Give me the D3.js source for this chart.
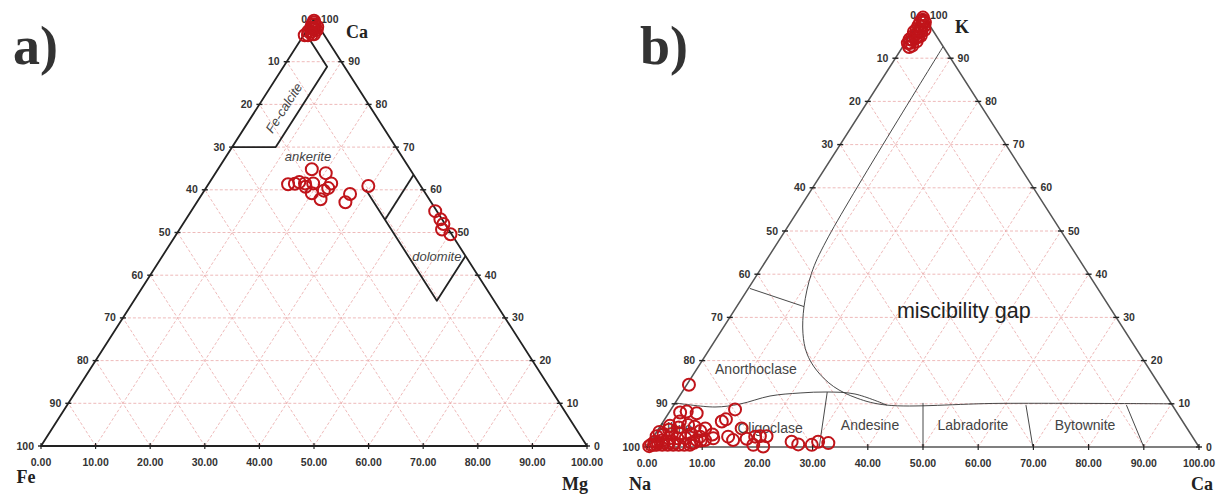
<!DOCTYPE html>
<html>
<head>
<meta charset="utf-8">
<script src="https://cdn.jsdelivr.net/npm/d3@7"></script>
<style>
  body { margin: 0; background: #fff; }
  svg { display: block; font-family: "Liberation Sans", Arial, sans-serif; }
</style>
</head>
<body>
<svg id="chart" width="1217" height="496"></svg>
<script>
const ternTicks = d3.range(0, 101, 10);

// ---- panel a) carbonates, points are [Fe, Mg, Ca] in %
const carbApex = [
  [0.2, 0.2, 99.6], [0.5, 0.8, 98.7], [1.0, 0.3, 98.7], [1.2, 1.2, 97.6],
  [1.6, 0.5, 97.9], [2.0, 1.0, 97.0], [2.5, 0.4, 97.1], [3.0, 0.8, 96.2],
  [3.6, 0.2, 96.2], [0.3, 1.5, 98.2], [1.8, 1.8, 96.4], [0.8, 1.8, 97.4],
  [0.4, 0.4, 99.2], [0.9, 1.2, 97.9], [1.4, 0.8, 97.8], [2.2, 1.4, 96.4]
];
const carbAnkerite = [
  [18.0, 17.2, 64.8], [15.9, 20.2, 63.9], [24.1, 14.6, 61.3], [22.8, 15.8, 61.4],
  [21.8, 16.4, 61.8], [20.9, 17.6, 61.5], [21.2, 18.1, 60.7], [19.4, 19.1, 61.5],
  [20.8, 20.0, 59.2], [19.9, 22.3, 57.8], [18.3, 21.9, 59.8], [17.2, 22.4, 60.4],
  [16.1, 22.4, 61.5], [13.9, 27.1, 59.0], [15.7, 27.2, 57.1], [9.6, 29.5, 60.9]
];
const carbDolomite = [
  [0.3, 44.7, 55.0], [0.3, 46.6, 53.1], [0.3, 47.7, 52.0], [1.2, 48.1, 50.7], [0.2, 50.2, 49.6]
];
const carbFields = [
  [[30, 0, 70], [22, 8, 70], [3.2, 8, 88.8], [3.2, 0, 96.8]],
  [[10.5, 29.5, 60], [10.5, 55.5, 34], [0, 55.5, 44.5]],
  [[10.5, 36.5, 53], [0, 36.5, 63.5]]
];
const carbLabels = [
  { text: 'Fe-calcite', p: [15.9, 4.9, 79.2], rotate: true },
  { text: 'ankerite', p: [17.25, 15.05, 67.7] },
  { text: 'dolomite', p: [5.25, 50.25, 44.5] }
];

// ---- panel b) feldspars, points are [Na, Ca, K] in %
const feldApex = [
  [0.3, 0.3, 99.4], [0.8, 0.8, 98.4], [1.2, 0.3, 98.5], [1.6, 1.0, 97.4], [2.0, 0.4, 97.6],
  [2.5, 1.2, 96.3], [2.8, 0.5, 96.7], [3.3, 1.0, 95.7], [3.6, 0.3, 96.1], [4.0, 1.3, 94.7],
  [4.4, 0.6, 95.0], [4.8, 1.0, 94.2], [5.2, 0.4, 94.4], [5.6, 0.9, 93.5], [6.0, 0.5, 93.5],
  [6.2, 1.2, 92.6], [1.0, 1.5, 97.5], [2.2, 1.6, 96.2], [3.4, 1.7, 94.9], [0.5, 1.2, 98.3],
  [1.4, 2.0, 96.6], [2.8, 2.0, 95.2], [4.2, 1.9, 93.9], [5.5, 1.6, 92.9], [0.6, 0.5, 98.9]
];
const feldBase = [
  [85.2, 0.4, 14.4], [90.0, 2.0, 8.0], [88.7, 3.1, 8.2], [87.1, 5.1, 7.8], [79.7, 11.6, 8.7],
  [83.5, 10.6, 5.9], [82.5, 11.1, 6.4], [87.3, 8.4, 4.3], [93.4, 1.7, 4.9], [91.1, 3.0, 5.9],
  [90.0, 4.9, 5.1], [89.0, 6.3, 4.7], [80.7, 15.0, 4.3], [87.0, 11.0, 2.0], [84.1, 13.5, 2.4],
  [83.6, 14.8, 1.6], [81.0, 17.1, 1.9], [79.2, 18.4, 2.4], [78.3, 19.2, 2.5], [77.1, 20.4, 2.5],
  [80.5, 19.0, 0.5], [78.9, 21.0, 0.1], [73.2, 25.6, 1.2], [72.3, 27.1, 0.6], [69.9, 29.6, 0.5],
  [68.4, 30.4, 1.2], [66.7, 32.4, 0.9], [89.2, 8.4, 2.4], [88.7, 9.7, 1.6], [90.2, 8.2, 1.6],
  [91.5, 7.6, 0.9], [88.5, 7.8, 3.7], [86.7, 10.4, 2.9],
  [99.5, 0.3, 0.2], [99.0, 0.5, 0.5], [98.0, 1.5, 0.5], [97.0, 2.5, 0.5], [96.0, 3.5, 0.5],
  [95.0, 4.5, 0.5], [94.0, 5.5, 0.5], [93.0, 6.5, 0.5], [92.0, 7.5, 0.5], [98.0, 0.8, 1.2],
  [96.5, 2.0, 1.5], [95.0, 3.0, 2.0], [93.5, 4.5, 2.0], [92.0, 6.0, 2.0], [97.0, 0.5, 2.5],
  [95.5, 1.5, 3.0], [94.0, 3.0, 3.0], [92.5, 4.5, 3.0], [90.5, 6.5, 3.0], [91.0, 8.0, 1.0],
  [96.0, 0.5, 3.5], [94.0, 2.0, 4.0], [92.0, 3.5, 4.5], [89.5, 9.0, 1.5],
  [98.5, 1.0, 0.5], [97.5, 1.5, 1.0], [96.5, 2.5, 1.0], [95.5, 3.5, 1.0], [94.5, 4.5, 1.0]
];
const feldFields = [
  { pts: [[0, 7.3, 92.7], [43.5, 8.6, 47.9], [50.1, 9.7, 40.2], [55.3, 12.2, 32.5], [58.6, 15.1, 26.3],
          [60.2, 18.1, 21.7], [60.4, 21.8, 17.8], [59.2, 26.8, 14.0], [56.3, 32.4, 11.3],
          [51.7, 38.6, 9.7], [31, 58.9, 10.1], [0, 90, 10]], smooth: true },
  { pts: [[63.0, 0.3, 36.7], [55.3, 12.2, 32.5]] },
  { pts: [[89.8, 0, 10.2], [83.05, 7.69, 9.26], [78.2, 11.87, 9.95], [71.8, 16.38, 11.8],
          [66.0, 21.47, 12.5], [61.0, 26.24, 12.73], [56.2, 31.55, 12.27], [51.7, 38.6, 9.7]], smooth: true },
  { pts: [[61.0, 26.3, 12.7], [68.8, 31.2, 0]] },
  { pts: [[44.9, 44.9, 10.2], [50, 50, 0]] },
  { pts: [[26.5, 63.8, 9.7], [30.1, 69.9, 0]] },
  { pts: [[8.3, 82, 9.7], [10, 90, 0]] }
];
const feldLabels = [
  { text: 'miscibility gap', p: [26.75, 41.55, 31.7], big: true },
  { text: 'Anorthoclase', p: [71.25, 10.7, 18.05] },
  { text: 'Albite', p: [92.7, 2.9, 4.4] },
  { text: 'Oligoclase', p: [75.5, 20.1, 4.4] },
  { text: 'Andesine', p: [57.05, 37.85, 5.1] },
  { text: 'Labradorite', p: [38.4, 56.5, 5.1] },
  { text: 'Bytownite', p: [18.1, 76.8, 5.1] }
];

const svg = d3.select('#chart');
const RED = '#c0141a';

function drawPanel(cfg) {
  const g = svg.append('g');
  const x = d3.scaleLinear().domain([0, 100]).range([cfg.left, cfg.right]);
  const y = d3.scaleLinear().domain([0, 100]).range([cfg.base, cfg.apex]);
  const proj = p => {
    const t = p[0] + p[1] + p[2];
    const b = p[1] / t * 100, c = p[2] / t * 100;
    return [x(b + c / 2), y(c)];
  };
  const straight = d3.line().x(d => proj(d)[0]).y(d => proj(d)[1]);
  const smooth = d3.line().x(d => proj(d)[0]).y(d => proj(d)[1]).curve(d3.curveCatmullRom.alpha(0.5));

  // dashed grid
  const grid = [];
  ternTicks.filter(v => v > 0 && v < 100).forEach(v => {
    grid.push([[100 - v, 0, v], [0, 100 - v, v]]);
    grid.push([[v, 100 - v, 0], [v, 0, 100 - v]]);
    grid.push([[100 - v, v, 0], [0, v, 100 - v]]);
  });
  g.append('g').selectAll('path').data(grid).join('path')
    .attr('d', straight)
    .attr('fill', 'none')
    .attr('stroke', '#eaa8a8')
    .attr('stroke-width', 0.8)
    .attr('stroke-dasharray', '3,2');

  // field boundaries
  g.append('g').selectAll('path').data(cfg.fields).join('path')
    .attr('d', d => (d.smooth ? smooth : straight)(d.pts || d))
    .attr('fill', 'none')
    .attr('stroke', cfg.fieldColor)
    .attr('stroke-width', cfg.fieldWidth)
    .attr('stroke-linejoin', 'round');

  // triangle
  g.append('path')
    .attr('d', straight([[100, 0, 0], [0, 100, 0], [0, 0, 100]]) + 'Z')
    .attr('fill', 'none')
    .attr('stroke', cfg.edgeColor)
    .attr('stroke-width', cfg.edgeWidth)
    .attr('stroke-linejoin', 'round');

  // ticks and tick labels
  const tickG = g.append('g').attr('fill', '#333').attr('font-size', 10.5).attr('font-weight', 'bold');
  const sides = [
    { pts: ternTicks.map(v => ({ p: [v, 0, 100 - v], t: String(v) })), kind: 'left' },
    { pts: ternTicks.map(v => ({ p: [0, 100 - v, v], t: String(v) })), kind: 'right' },
    { pts: ternTicks.map(v => ({ p: [100 - v, v, 0], t: v.toFixed(2) })), kind: 'bottom' }
  ];
  sides.forEach(side => {
    side.pts.forEach(d => {
      const [px, py] = proj(d.p);
      if (side.kind === 'bottom') {
        tickG.append('line').attr('x1', px).attr('x2', px).attr('y1', py - 3).attr('y2', py + 3)
          .attr('stroke', '#222').attr('stroke-width', 1.2);
        tickG.append('text').attr('x', px).attr('y', py + 20).attr('text-anchor', 'middle').text(d.t);
      } else {
        const dir = side.kind === 'left' ? -1 : 1;
        tickG.append('line').attr('x1', px - 3).attr('x2', px + 3).attr('y1', py).attr('y2', py)
          .attr('stroke', '#222').attr('stroke-width', 1.4);
        tickG.append('text').attr('x', px + dir * 7).attr('y', py + 3.5)
          .attr('text-anchor', dir < 0 ? 'end' : 'start').text(d.t);
      }
    });
  });

  // corner names
  const corners = [[100, 0, 0], [0, 100, 0], [0, 0, 100]];
  cfg.corners.forEach((c, i) => {
    const [px, py] = proj(corners[i]);
    g.append('text')
      .attr('x', px + c.dx).attr('y', py + c.dy)
      .attr('text-anchor', 'middle')
      .attr('font-family', '"Liberation Serif", "Times New Roman", serif')
      .attr('font-weight', 'bold')
      .attr('font-size', 18)
      .attr('fill', '#222')
      .text(c.text);
  });

  // field names
  const angle = -Math.atan2(y(0) - y(100), x(50) - x(0)) * 180 / Math.PI;
  cfg.labels.forEach(l => {
    const [px, py] = proj(l.p);
    g.append('text')
      .attr('x', px).attr('y', py)
      .attr('dy', '0.35em')
      .attr('text-anchor', 'middle')
      .attr('font-size', l.big ? 21.5 : cfg.labelSize)
      .attr('font-style', cfg.italic ? 'italic' : 'normal')
      .attr('fill', l.big ? '#222' : '#444')
      .attr('transform', l.rotate ? `rotate(${angle},${px},${py})` : null)
      .text(l.text);
  });

  // panel letter
  g.append('text')
    .attr('x', cfg.letterX).attr('y', 64)
    .attr('font-family', '"Liberation Serif", "Times New Roman", serif')
    .attr('font-weight', 'bold')
    .attr('font-size', 54)
    .attr('fill', '#333')
    .text(cfg.letter);

  // data points
  g.append('g').selectAll('circle').data(cfg.points).join('circle')
    .attr('cx', d => proj(d)[0])
    .attr('cy', d => proj(d)[1])
    .attr('r', 6)
    .attr('fill', 'none')
    .attr('stroke', RED)
    .attr('stroke-width', 2);
}

drawPanel({
  left: 41, right: 587, base: 446, apex: 19,
  edgeColor: '#222', edgeWidth: 1.8,
  fields: carbFields, fieldColor: '#222', fieldWidth: 1.8,
  labels: carbLabels, labelSize: 13, italic: true,
  corners: [{ text: 'Fe', dx: -15, dy: 37 }, { text: 'Mg', dx: -12, dy: 44 }, { text: 'Ca', dx: 43, dy: 19 }],
  letter: 'a)', letterX: 13,
  points: carbApex.concat(carbAnkerite, carbDolomite)
});

drawPanel({
  left: 647, right: 1199, base: 447, apex: 15,
  edgeColor: '#555', edgeWidth: 1.5,
  fields: feldFields, fieldColor: '#333', fieldWidth: 0.9,
  labels: feldLabels, labelSize: 14, italic: false,
  corners: [{ text: 'Na', dx: -7, dy: 43 }, { text: 'Ca', dx: 3, dy: 43 }, { text: 'K', dx: 39, dy: 18 }],
  letter: 'b)', letterX: 640,
  points: feldApex.concat(feldBase)
});
</script>
</body>
</html>
